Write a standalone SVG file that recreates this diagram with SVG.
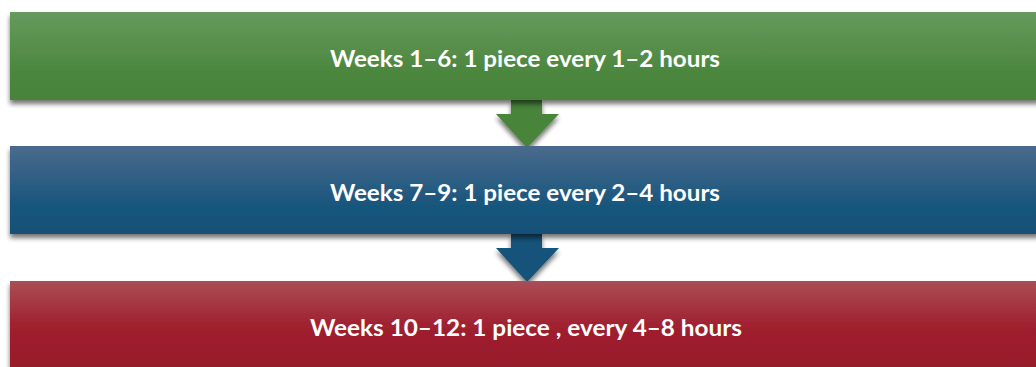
<svg xmlns="http://www.w3.org/2000/svg" width="1036" height="367" viewBox="0 0 1036 367">
<style>
.lbl{font-family:Lato,"Open Sans","Liberation Sans",sans-serif;font-weight:bold;font-size:23px;fill:#ffffff;text-anchor:middle}
</style>
<defs>
<linearGradient id="gG" x1="0" y1="0" x2="0" y2="1"><stop offset="0" stop-color="#669a5e"/><stop offset="0.7" stop-color="#4b863d"/><stop offset="1" stop-color="#4a833b"/></linearGradient>
<linearGradient id="gB" x1="0" y1="0" x2="0" y2="1"><stop offset="0" stop-color="#4a6a8d"/><stop offset="0.7" stop-color="#17557c"/><stop offset="1" stop-color="#145077"/></linearGradient>
<linearGradient id="gR" x1="0" y1="0" x2="0" y2="1"><stop offset="0" stop-color="#aa4e56"/><stop offset="0.5" stop-color="#a0202f"/><stop offset="1" stop-color="#961a2a"/></linearGradient>
<filter id="sh" x="-5%" y="-20%" width="110%" height="150%"><feGaussianBlur in="SourceAlpha" stdDeviation="2.5"/><feOffset dx="0" dy="4"/><feComponentTransfer><feFuncA type="linear" slope="0.55"/></feComponentTransfer><feMerge><feMergeNode/><feMergeNode in="SourceGraphic"/></feMerge></filter>
</defs>
<g id="connectors">
<path d="M511,100 H542 V114 H559 L527,148 L496,114 H511 Z" fill="#4a843b" filter="url(#sh)"/>
<path d="M511,234 H542 V248 H559 L527,282 L496,248 H511 Z" fill="#15537a" filter="url(#sh)"/>
</g>
<g id="node1">
<rect x="10" y="12" width="1030" height="88" fill="url(#gG)" filter="url(#sh)"/>
<text class="lbl" x="525" y="67" textLength="390" lengthAdjust="spacingAndGlyphs">Weeks 1–6: 1 piece every 1–2 hours</text>
</g>
<g id="node2">
<rect x="10" y="146" width="1030" height="88" fill="url(#gB)" filter="url(#sh)"/>
<text class="lbl" x="525" y="201" textLength="390" lengthAdjust="spacingAndGlyphs">Weeks 7–9: 1 piece every 2–4 hours</text>
</g>
<g id="node3">
<rect x="10" y="281" width="1030" height="90" fill="url(#gR)" filter="url(#sh)"/>
<text class="lbl" x="526" y="336" textLength="432" lengthAdjust="spacingAndGlyphs">Weeks 10–12: 1 piece , every 4–8 hours</text>
</g>
</svg>
